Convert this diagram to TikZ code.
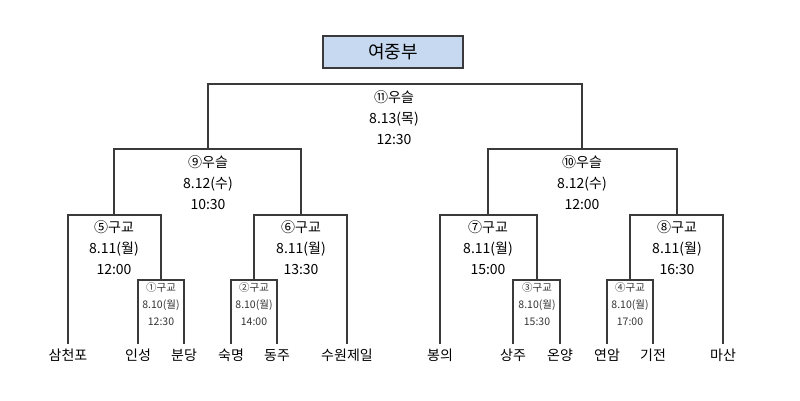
\documentclass[tikz,border=0pt]{standalone}
\usepackage{fontspec}
\setmainfont{Noto Sans CJK KR}
\usetikzlibrary{positioning}
\definecolor{lineg}{HTML}{3A3A3A}
\definecolor{titleblue}{HTML}{C6D9F1}
\tikzset{
  bline/.style={ draw=lineg, line width=1.5pt }
}
\tikzset{
  titlebox/.style={ draw=lineg, line width=1.5pt, fill=titleblue, minimum width=140pt, minimum height=32pt, font=\fontsize{18}{20}\selectfont }
}
\tikzset{
  matchbig/.style={ align=center, inner sep=0pt, font=\fontsize{14}{21}\selectfont }
}
\tikzset{
  matchsmall/.style={ align=center, inner sep=0pt, text=black!80, font=\fontsize{10.5}{17}\selectfont }
}
\tikzset{
  team/.style={ anchor=north, inner sep=5pt, font=\fontsize{14}{16}\selectfont }
}

\begin{document}
\begin{tikzpicture}[x=1pt, y=-1pt]
      \useasboundingbox (0,0) rectangle (800,401);

      \node[titlebox] (title) at (393, 52) {여중부};

      % teams
      \node[team] (samcheonpo) at (68, 344) {삼천포};
      \node[team] (insung) at (138, 344) {인성};
      \node[team] (bundang) at (184, 344) {분당};
      \node[team] (sukmyung) at (231, 344) {숙명};
      \node[team] (dongju) at (277, 344) {동주};
      \node[team] (suwon) at (347, 344) {수원제일};
      \node[team] (bongui) at (440, 344) {봉의};
      \node[team] (sangju) at (513, 344) {상주};
      \node[team] (onyang) at (560, 344) {온양};
      \node[team] (yeonam) at (607, 344) {연암};
      \node[team] (gijeon) at (653, 344) {기전};
      \node[team] (masan) at (723, 344) {마산};

      % bracket tops
      \coordinate (c1) at (161, 280);
      \coordinate (c2) at (254, 280);
      \coordinate (c3) at (537, 280);
      \coordinate (c4) at (630, 280);
      \coordinate (c5) at (114, 215);
      \coordinate (c6) at (301, 215);
      \coordinate (c7) at (488, 215);
      \coordinate (c8) at (677, 215);
      \coordinate (c9) at (208, 149);
      \coordinate (c10) at (582, 149);
      \coordinate (c11) at (395, 84);

      % match labels
      \node[matchsmall] (m1) at (161, 304) {①구교\\8.10(월)\\12:30};
      \node[matchsmall] (m2) at (254, 304) {②구교\\8.10(월)\\14:00};
      \node[matchsmall] (m3) at (537, 304) {③구교\\8.10(월)\\15:30};
      \node[matchsmall] (m4) at (630, 304) {④구교\\8.10(월)\\17:00};
      \node[matchbig] (m5) at (114, 248) {⑤구교\\8.11(월)\\12:00};
      \node[matchbig] (m6) at (301, 248) {⑥구교\\8.11(월)\\13:30};
      \node[matchbig] (m7) at (488, 248) {⑦구교\\8.11(월)\\15:00};
      \node[matchbig] (m8) at (677, 248) {⑧구교\\8.11(월)\\16:30};
      \node[matchbig] (m9) at (208, 183) {⑨우슬\\8.12(수)\\10:30};
      \node[matchbig] (m10) at (582, 183) {⑩우슬\\8.12(수)\\12:00};
      \node[matchbig] (m11) at (394, 118) {⑪우슬\\8.13(목)\\12:30};

      \begin{scope}[bline]
        \draw (insung.north) |- (c1) -| (bundang.north);
        \draw (sukmyung.north) |- (c2) -| (dongju.north);
        \draw (sangju.north) |- (c3) -| (onyang.north);
        \draw (yeonam.north) |- (c4) -| (gijeon.north);

        \draw (samcheonpo.north) |- (c5) -| (c1);
        \draw (c2) |- (c6) -| (suwon.north);
        \draw (bongui.north) |- (c7) -| (c3);
        \draw (c4) |- (c8) -| (masan.north);

        \draw (c5) |- (c9) -| (c6);
        \draw (c7) |- (c10) -| (c8);

        \draw (c9) |- (c11) -| (c10);
      \end{scope}
    \end{tikzpicture}
\end{document}
